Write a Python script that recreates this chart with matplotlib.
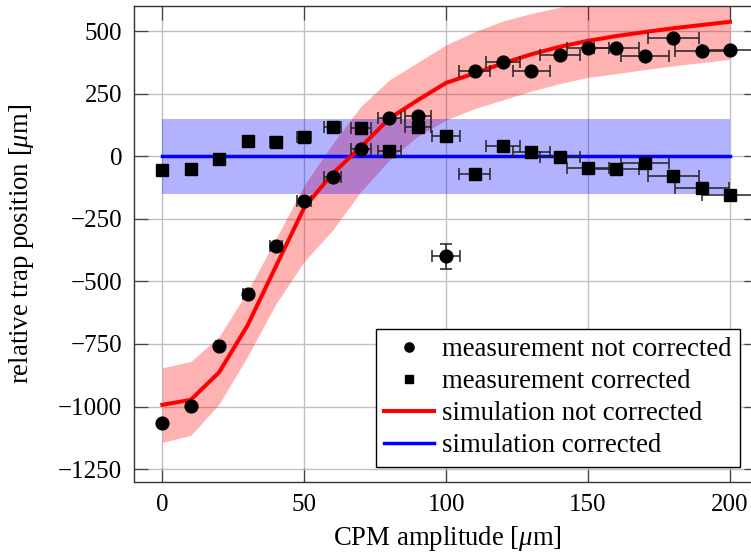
import matplotlib
matplotlib.use('Agg')
import matplotlib.pyplot as plt

plt.rcParams['font.family'] = ['Liberation Serif', 'DejaVu Serif']
plt.rcParams['mathtext.fontset'] = 'custom'
plt.rcParams['mathtext.rm'] = 'Liberation Serif'
plt.rcParams['mathtext.it'] = 'Liberation Serif:italic'
plt.rcParams['font.size'] = 18

# ---- data ----
amplitude = [0, 10, 20, 30, 40, 50, 60, 70, 80, 90, 100,
             110, 120, 130, 140, 150, 160, 170, 180, 190, 200]
meas_not_corrected = [-1065, -997, -757, -552, -359, -179, -83, 27, 153, 160, -400,
                      340, 376, 341, 403, 432, 433, 401, 473, 419, 425]
meas_corrected = [-57, -52, -12, 59, 55, 76, 115, 113, 19, 115, 80,
                  -72, 41, 16, -2, -47, -53, -29, -79, -127, -155]
amplitude_err = [0, 0.5, 1, 1.5, 2, 2.5, 3, 3.5, 4, 4.5, 5,
                 5.5, 6, 6.5, 7, 7.5, 8, 8.5, 9, 9.5, 10]
pos_err_not_corrected = [0, 0, 0, 0, 0, 0, 0, 0, 0, 0, 50,
                         0, 0, 0, 0, 0, 0, 0, 0, 0, 0]

sim_amplitude = [0, 10, 20, 30, 40, 50, 60, 70, 80, 90, 100,
                 110, 120, 130, 140, 150, 160, 170, 180, 190, 200]
sim_not_corrected = [-993, -973, -863, -676, -440, -205, -69, 37, 151, 224, 293,
                     331, 371, 407, 437, 461, 480, 496, 511, 524, 537]
sim_not_corrected_upper = [-845, -820, -720, -540, -330, -115, 50, 200, 305, 375, 445,
                           497, 540, 570, 595, 620, 630, 646, 661, 674, 687]
sim_not_corrected_lower = [-1143, -1115, -990, -800, -590, -420, -295, -140, -15, 80, 145,
                           190, 225, 260, 290, 315, 330, 346, 361, 374, 387]
sim_corrected = [0] * 21
sim_corrected_upper = [150] * 21
sim_corrected_lower = [-150] * 21

xticks = [0, 50, 100, 150, 200]
yticks = [-1250, -1000, -750, -500, -250, 0, 250, 500]

# ---- figure ----
W, H = 751, 558
fig = plt.figure(figsize=(W / 100, H / 100), dpi=100)
ax = fig.add_axes([134 / W, 76.3 / H, 624.3 / W, 475.7 / H])

ax.fill_between(sim_amplitude, sim_not_corrected_lower, sim_not_corrected_upper,
                color=(1, 0, 0), alpha=0.3, linewidth=0, zorder=1)
ax.fill_between(sim_amplitude, sim_corrected_lower, sim_corrected_upper,
                color=(0, 0, 1), alpha=0.3, linewidth=0, zorder=1)
l_red, = ax.plot(sim_amplitude, sim_not_corrected, color='red', lw=2.9, zorder=3,
                 label='simulation not corrected')
l_blue, = ax.plot(sim_amplitude, sim_corrected, color='blue', lw=2.5, zorder=2.5,
                  label='simulation corrected')

ax.errorbar(amplitude, meas_not_corrected, xerr=amplitude_err, yerr=pos_err_not_corrected,
            fmt='none', ecolor='#222222', elinewidth=1.1, capsize=4.5, capthick=1.1, zorder=4)
ax.errorbar(amplitude, meas_corrected, xerr=amplitude_err,
            fmt='none', ecolor='#222222', elinewidth=1.1, capsize=4.5, capthick=1.1, zorder=4)
m_circ, = ax.plot(amplitude, meas_not_corrected, 'o', color='black', ms=9.2, zorder=5,
                  label='measurement not corrected')
m_sq, = ax.plot(amplitude, meas_corrected, 's', color='black', ms=8.6, zorder=5,
                label='measurement corrected')

ax.set_xlim(-10, 210)
ax.set_ylim(-1300, 600)
ax.set_xticks(xticks)
ax.set_yticks(yticks)
ax.grid(True, color='#c0c0c0', linewidth=1.0, zorder=0)
ax.set_axisbelow(True)
ax.tick_params(direction='in', length=10, width=0.9, color='#444444',
               top=True, right=True, labelsize=18)
ax.tick_params(axis='y', pad=8.5)
ax.tick_params(axis='x', pad=8.5)
for s in ax.spines.values():
    s.set_linewidth(1.0)
    s.set_color('#333333')

ax.set_xlabel(r'CPM amplitude [$\mu$m]', fontsize=19.3)
ax.set_ylabel(r'relative trap position [$\mu$m]', fontsize=19.3)
ax.xaxis.set_label_coords((447 - 134) / 624.3, (481.7 - 524) / 475.7)
ax.yaxis.set_label_coords((36 - 134) / 624.3, 0.5)

leg = ax.legend(handles=[m_circ, m_sq, l_red, l_blue], loc='lower right',
                bbox_to_anchor=(0.971, 0.031), borderaxespad=0, fontsize=19.3,
                frameon=True, fancybox=False, edgecolor='black', framealpha=1,
                handlelength=1.85, handletextpad=0.3, labelspacing=0.26,
                borderpad=0.32, markerscale=0.72)
leg.get_frame().set_linewidth(1.0)

fig.savefig('out.png', dpi=100)
